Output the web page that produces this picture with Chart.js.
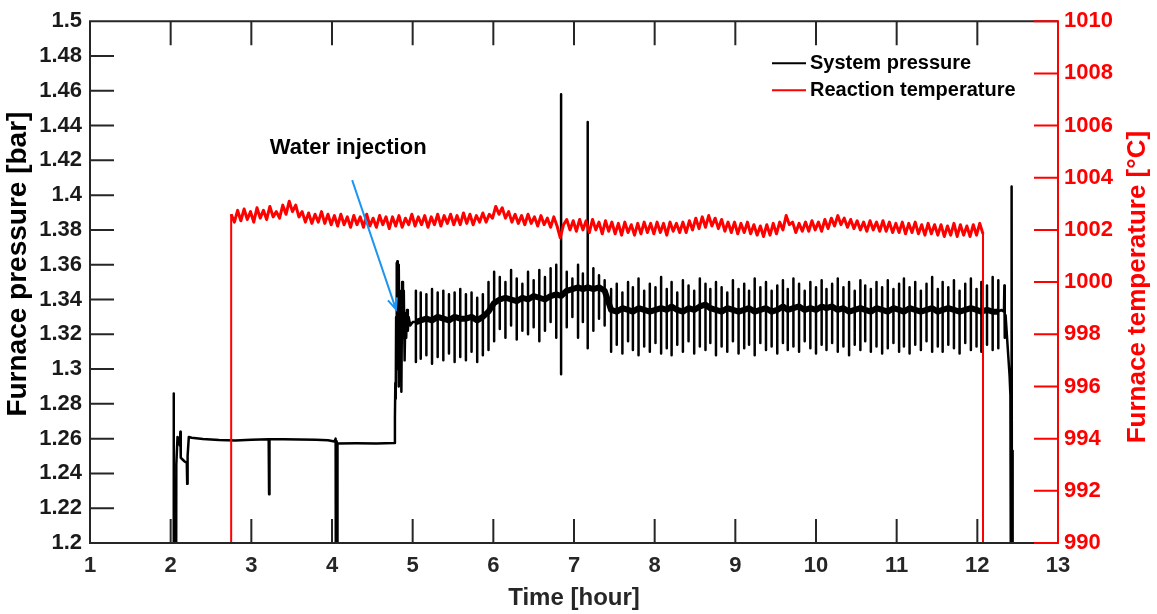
<!DOCTYPE html>
<html>
<head>
<meta charset="utf-8">
<script src="https://cdn.jsdelivr.net/npm/chart.js@4.4.1/dist/chart.umd.min.js"></script>
<style>
  html, body { margin: 0; padding: 0; background: #fff; }
  #wrap { width: 1157px; height: 614px; }
</style>
</head>
<body>
<div id="wrap"><canvas id="furnaceChart" width="1157" height="614"></canvas></div>
<script>
// ---- values ----
const timeTicks = [1, 2, 3, 4, 5, 6, 7, 8, 9, 10, 11, 12, 13];

// start-up part of the pressure trace (hour, bar)
const startTime = [
  2.000, 2.035, 2.037, 2.040, 2.065, 2.070, 2.085, 2.100, 2.115, 2.120,
  2.125, 2.170, 2.200, 2.205, 2.210, 2.225, 2.260, 2.400, 2.600, 2.800,
  3.000, 3.215, 3.220, 3.225, 3.400, 3.600, 3.800, 3.950, 4.030, 4.045,
  4.050, 4.058, 4.062, 4.068, 4.300, 4.550, 4.770, 4.780, 4.785, 4.790,
  4.795, 4.800, 4.805, 4.810, 4.815, 4.820, 4.825, 4.830, 4.835, 4.840,
  4.845, 4.850, 4.860, 4.870, 4.880, 4.890, 4.900, 4.910, 4.920, 4.930,
  4.940, 4.950, 4.970, 5.000
];
const startPressure = [
  1.100, 1.100, 1.286, 1.100, 1.100, 1.245, 1.261, 1.258, 1.256, 1.264,
  1.249, 1.247, 1.246, 1.234, 1.250, 1.261, 1.2605, 1.2598, 1.2592, 1.2590,
  1.2593, 1.2596, 1.228, 1.2596, 1.2597, 1.2595, 1.2594, 1.2591, 1.2584, 1.2600,
  1.100, 1.2585, 1.100, 1.2572, 1.2573, 1.2572, 1.2575, 1.272, 1.292, 1.283,
  1.330, 1.361, 1.300, 1.362, 1.315, 1.356, 1.290, 1.360, 1.320, 1.345,
  1.300, 1.340, 1.287, 1.350, 1.318, 1.345, 1.305, 1.332, 1.318, 1.334,
  1.322, 1.330, 1.325, 1.327
];

// periodic pressure pulses after water injection: time, baseline, peak, dip
const spikeTime = [
  5.04, 5.10, 5.17, 5.24, 5.31, 5.38, 5.45, 5.52, 5.59, 5.66, 5.73, 5.80, 5.87, 5.94,
  6.01, 6.08, 6.15, 6.22, 6.29, 6.36, 6.43, 6.50, 6.57, 6.64, 6.71, 6.78, 6.84,
  6.91, 6.98, 7.05, 7.11, 7.17, 7.24, 7.31, 7.38,
  7.46, 7.53, 7.60, 7.67, 7.73, 7.80, 7.87, 7.94, 8.01, 8.08,
  8.15, 8.21, 8.28, 8.35, 8.42, 8.49, 8.56, 8.63, 8.69, 8.76,
  8.83, 8.90, 8.97, 9.04, 9.11, 9.17, 9.24, 9.31, 9.38, 9.45,
  9.52, 9.59, 9.65, 9.72, 9.79, 9.86, 9.93, 10.00, 10.07, 10.13,
  10.20, 10.27, 10.34, 10.41, 10.48, 10.55, 10.61, 10.68, 10.75, 10.82,
  10.89, 10.96, 11.03, 11.09, 11.16, 11.23, 11.30, 11.37, 11.44, 11.51,
  11.57, 11.64, 11.71, 11.78, 11.85, 11.92, 11.99, 12.05, 12.12, 12.19,
  12.26
];
const spikeBase = [
  1.327, 1.328, 1.329, 1.328, 1.330, 1.329, 1.328, 1.330, 1.329, 1.329, 1.330, 1.328, 1.330, 1.333,
  1.338, 1.340, 1.341, 1.340, 1.339, 1.341, 1.340, 1.342, 1.341, 1.340, 1.342, 1.343, 1.342,
  1.345, 1.346, 1.347, 1.346, 1.347, 1.346, 1.347, 1.345,
  1.334, 1.333, 1.335, 1.334, 1.333, 1.335, 1.334, 1.333, 1.334, 1.335,
  1.334, 1.336, 1.334, 1.333, 1.335, 1.334, 1.336, 1.337, 1.335, 1.334,
  1.333, 1.335, 1.334, 1.333, 1.334, 1.335, 1.333, 1.334, 1.335, 1.333,
  1.334, 1.336, 1.334, 1.335, 1.336, 1.334, 1.335, 1.334, 1.336, 1.335,
  1.336, 1.334, 1.335, 1.333, 1.334, 1.335, 1.334, 1.333, 1.335, 1.334,
  1.333, 1.335, 1.334, 1.333, 1.335, 1.334, 1.333, 1.334, 1.335, 1.333,
  1.334, 1.335, 1.334, 1.333, 1.334, 1.335, 1.334, 1.333, 1.334, 1.333,
  1.333
];
const spikeHigh = [
  1.345, 1.344, 1.343, 1.346, 1.344, 1.345, 1.343, 1.344, 1.346, 1.343, 1.344, 1.341, 1.343, 1.350,
  1.356, 1.353, 1.350, 1.357, 1.352, 1.349, 1.356, 1.351, 1.357, 1.353, 1.358, 1.360, 1.458,
  1.356, 1.352, 1.360, 1.355, 1.442, 1.358, 1.354, 1.351,
  1.346, 1.349, 1.344, 1.350, 1.347, 1.352, 1.345, 1.349, 1.347, 1.353,
  1.346, 1.350, 1.344, 1.351, 1.348, 1.345, 1.352, 1.349, 1.346, 1.350,
  1.347, 1.344, 1.351, 1.346, 1.349, 1.345, 1.352, 1.347, 1.350, 1.345,
  1.348, 1.351, 1.346, 1.352, 1.349, 1.345, 1.350, 1.347, 1.351, 1.346,
  1.349, 1.352, 1.347, 1.350, 1.345, 1.351, 1.348, 1.346, 1.350, 1.347,
  1.351, 1.346, 1.349, 1.352, 1.347, 1.350, 1.345, 1.349, 1.353, 1.346,
  1.350, 1.347, 1.351, 1.345, 1.349, 1.352, 1.346, 1.350, 1.348, 1.353,
  1.351
];
const spikeLow = [
  1.304, 1.306, 1.308, 1.303, 1.307, 1.305, 1.309, 1.304, 1.307, 1.305, 1.310, 1.304, 1.308, 1.311,
  1.316, 1.323, 1.318, 1.325, 1.317, 1.322, 1.320, 1.324, 1.316, 1.322, 1.327, 1.318, 1.297,
  1.324, 1.330, 1.318, 1.327, 1.312, 1.322, 1.329, 1.325,
  1.310, 1.314, 1.309, 1.316, 1.311, 1.308, 1.313, 1.310, 1.315, 1.309,
  1.312, 1.308, 1.314, 1.310, 1.316, 1.309, 1.313, 1.311, 1.315, 1.308,
  1.313, 1.310, 1.316, 1.309, 1.312, 1.314, 1.308, 1.315, 1.311, 1.313,
  1.309, 1.315, 1.311, 1.313, 1.310, 1.316, 1.312, 1.309, 1.314, 1.311,
  1.315, 1.310, 1.313, 1.308, 1.314, 1.311, 1.316, 1.310, 1.313, 1.309,
  1.312, 1.315, 1.310, 1.313, 1.309, 1.314, 1.311, 1.316, 1.310, 1.313,
  1.310, 1.314, 1.312, 1.309, 1.315, 1.311, 1.313, 1.310, 1.314, 1.311,
  1.312
];

// shut-down part of the pressure trace
const endTime = [12.30, 12.33, 12.335, 12.34, 12.35, 12.40, 12.41, 12.42, 12.425, 12.43, 12.435, 12.44];
const endPressure = [1.334, 1.333, 1.348, 1.318, 1.331, 1.296, 1.285, 1.100, 1.405, 1.100, 1.253, 1.100];

// reaction temperature, logged every 0.04 h from 2.75 h
const tempStart = 2.75;
const tempStep = 0.04;
const tempOff = 985; // heater reading before / after the run (below the axis)
const tempValues = [
  1002.6, 1002.3, 1002.75, 1002.35, 1002.8, 1002.4, 1002.7, 1002.3, 1002.85, 1002.45,
  1002.75, 1002.4, 1002.9, 1002.5, 1002.7, 1002.45, 1002.95, 1002.6, 1003.1, 1002.7,
  1002.95, 1002.5, 1002.7, 1002.3, 1002.65, 1002.25, 1002.6, 1002.3, 1002.7, 1002.25,
  1002.6, 1002.2, 1002.55, 1002.15, 1002.6, 1002.2, 1002.5, 1002.1, 1002.55, 1002.2,
  1002.5, 1002.1, 1002.6, 1002.15, 1002.45, 1002.1, 1002.55, 1002.2, 1002.5, 1002.05,
  1002.5, 1002.15, 1002.55, 1002.1, 1002.45, 1002.2, 1002.6, 1002.15, 1002.5, 1002.2,
  1002.55, 1002.1, 1002.5, 1002.2, 1002.6, 1002.15, 1002.55, 1002.25, 1002.6, 1002.2,
  1002.55, 1002.2, 1002.65, 1002.25, 1002.6, 1002.2, 1002.55, 1002.3, 1002.65, 1002.3,
  1002.6, 1002.45, 1002.9, 1002.6, 1002.85, 1002.45, 1002.7, 1002.3, 1002.6, 1002.25,
  1002.55, 1002.2, 1002.6, 1002.25, 1002.5, 1002.15, 1002.55, 1002.2, 1002.45, 1002.1,
  1002.5, 1002.15, 1001.7, 1002.2, 1002.4, 1002.0, 1002.35, 1001.95, 1002.4, 1002.0,
  1002.35, 1001.9, 1002.4, 1002.0, 1002.3, 1001.85, 1002.35, 1001.95, 1002.3, 1001.85,
  1002.25, 1001.8, 1002.3, 1001.9, 1002.2, 1001.8, 1002.25, 1001.85, 1002.3, 1001.9,
  1002.25, 1001.85, 1002.3, 1001.9, 1002.25, 1001.8, 1002.3, 1001.95, 1002.25, 1001.9,
  1002.3, 1001.9, 1002.35, 1002.0, 1002.45, 1002.05, 1002.5, 1002.1, 1002.55, 1002.15,
  1002.45, 1002.05, 1002.4, 1001.95, 1002.3, 1001.9, 1002.3, 1001.85, 1002.25, 1001.9,
  1002.3, 1001.85, 1002.2, 1001.8, 1002.15, 1001.75, 1002.2, 1001.8, 1002.25, 1001.85,
  1002.3, 1002.0, 1002.55, 1002.2, 1002.3, 1001.9, 1002.25, 1001.95, 1002.3, 1001.95,
  1002.35, 1002.0, 1002.3, 1001.95, 1002.4, 1002.05, 1002.45, 1002.15, 1002.55, 1002.2,
  1002.45, 1002.1, 1002.4, 1002.05, 1002.35, 1002.0, 1002.3, 1001.95, 1002.35, 1002.0,
  1002.3, 1001.95, 1002.35, 1001.95, 1002.3, 1001.9, 1002.25, 1001.9, 1002.3, 1001.85,
  1002.25, 1001.9, 1002.3, 1001.85, 1002.2, 1001.8, 1002.25, 1001.85, 1002.2, 1001.8,
  1002.2, 1001.75, 1002.15, 1001.8, 1002.25, 1001.75, 1002.2, 1001.8, 1002.15, 1001.75,
  1002.2, 1001.8, 1002.25, 1001.85
];

// ---- build the point lists ----
const pressurePoints = [];
startTime.forEach((t, i) => pressurePoints.push({x: t, y: startPressure[i]}));
spikeTime.forEach((t, i) => {
  pressurePoints.push(
    {x: t, y: spikeBase[i]}, {x: t, y: spikeHigh[i]},
    {x: t, y: spikeLow[i]}, {x: t, y: spikeBase[i]});
});
endTime.forEach((t, i) => pressurePoints.push({x: t, y: endPressure[i]}));

// the noisy baseline band between pulses
const bandPoints = spikeTime.map((t, i) => ({x: t, y: spikeBase[i]}));

const tempTimes = tempValues.map((v, i) => tempStart + i * tempStep);
const tempPoints = [{x: tempStart, y: tempOff}];
tempValues.forEach((v, i) => tempPoints.push({x: tempTimes[i], y: v}));
tempPoints.push({x: tempTimes[tempTimes.length - 1], y: tempOff});

const FONT = '"Liberation Sans", Arial, Helvetica, sans-serif';
const INK = '#262626';

const waterNote = {text: 'Water injection', textAt: [4.2, 1.4274], from: [4.25, 1.4086], to: [4.793, 1.3343]};

function drawSideTitle(ctx, text, x, y, color, size) {
  ctx.save();
  ctx.fillStyle = color;
  ctx.font = 'bold ' + size + 'px ' + FONT;
  ctx.textAlign = 'center';
  ctx.textBaseline = 'middle';
  ctx.translate(x, y);
  ctx.rotate(-Math.PI / 2);
  ctx.fillText(text, 0, 0);
  ctx.restore();
}

// frame and inward ticks, like the original plot
const axisFrame = {
  id: 'axisFrame',
  afterDraw(chart) {
    const {ctx, chartArea: a, scales} = chart;
    const len = 24;
    ctx.save();
    ctx.lineWidth = 2;
    ctx.strokeStyle = INK;
    ctx.beginPath();
    ctx.moveTo(a.right, a.top);
    ctx.lineTo(a.left, a.top);
    ctx.lineTo(a.left, a.bottom);
    ctx.lineTo(a.right, a.bottom);
    scales.x.ticks.forEach((t, i, arr) => {
      if (i === 0 || i === arr.length - 1) return;
      const px = scales.x.getPixelForValue(t.value);
      ctx.moveTo(px, a.bottom); ctx.lineTo(px, a.bottom - len);
      ctx.moveTo(px, a.top); ctx.lineTo(px, a.top + len);
    });
    scales.y.ticks.forEach(t => {
      const py = scales.y.getPixelForValue(t.value);
      ctx.moveTo(a.left, py); ctx.lineTo(a.left + len, py);
    });
    ctx.stroke();

    ctx.strokeStyle = '#ff0000';
    ctx.beginPath();
    ctx.moveTo(a.right, a.top - 1);
    ctx.lineTo(a.right, a.bottom + 1);
    scales.y1.ticks.forEach(t => {
      const py = scales.y1.getPixelForValue(t.value);
      ctx.moveTo(a.right - len, py); ctx.lineTo(a.right, py);
    });
    ctx.stroke();
    ctx.restore();

    // both side titles read bottom-to-top
    const mid = (a.top + a.bottom) / 2;
    drawSideTitle(ctx, 'Furnace pressure [bar]', a.left - 72, mid - 18, '#000', 28);
    drawSideTitle(ctx, 'Furnace temperature [°C]', a.right + 80, mid + 5, '#ff0000', 26);

    // legend in the top right corner
    ctx.save();
    ctx.font = 'bold 20px ' + FONT;
    ctx.textBaseline = 'middle';
    ctx.textAlign = 'left';
    chart.data.datasets.filter(d => d.inLegend).forEach((d, i) => {
      const y = a.top + 42 + i * 27;
      const x0 = a.right - 286;
      ctx.strokeStyle = d.borderColor;
      ctx.lineWidth = 2;
      ctx.beginPath(); ctx.moveTo(x0, y); ctx.lineTo(x0 + 34, y); ctx.stroke();
      ctx.fillStyle = '#000';
      ctx.fillText(d.label, x0 + 38, y);
    });
    ctx.restore();
  }
};

const injectionNote = {
  id: 'injectionNote',
  afterDatasetsDraw(chart) {
    const {ctx, scales: {x, y}} = chart;
    const tx = x.getPixelForValue(waterNote.textAt[0]), ty = y.getPixelForValue(waterNote.textAt[1]);
    const x1 = x.getPixelForValue(waterNote.from[0]), y1 = y.getPixelForValue(waterNote.from[1]);
    const x2 = x.getPixelForValue(waterNote.to[0]), y2 = y.getPixelForValue(waterNote.to[1]);
    ctx.save();
    ctx.font = 'bold 22px ' + FONT;
    ctx.fillStyle = '#000';
    ctx.textAlign = 'center';
    ctx.textBaseline = 'middle';
    ctx.fillText(waterNote.text, tx, ty);
    const ang = Math.atan2(y2 - y1, x2 - x1);
    ctx.strokeStyle = '#1e96f0';
    ctx.lineWidth = 2;
    ctx.beginPath();
    ctx.moveTo(x1, y1); ctx.lineTo(x2, y2);
    ctx.moveTo(x2 - 12 * Math.cos(ang - 0.4), y2 - 12 * Math.sin(ang - 0.4));
    ctx.lineTo(x2, y2);
    ctx.lineTo(x2 - 12 * Math.cos(ang + 0.4), y2 - 12 * Math.sin(ang + 0.4));
    ctx.stroke();
    ctx.restore();
  }
};

const ctx = document.getElementById('furnaceChart').getContext('2d');
const furnaceChart = new Chart(ctx, {
  type: 'line',
  data: {
    datasets: [{
      label: 'System pressure',
      inLegend: true,
      data: pressurePoints,
      yAxisID: 'y',
      borderColor: '#000000',
      borderWidth: 2.5,
      borderJoinStyle: 'round',
      pointRadius: 0,
      order: 1,
    }, {
      label: 'Reaction temperature',
      inLegend: true,
      data: tempPoints,
      yAxisID: 'y1',
      borderColor: '#ff0000',
      borderWidth: 3,
      borderJoinStyle: 'round',
      pointRadius: 0,
      order: 0,
      // the heater switch-on / switch-off edges are thinner than the noisy trace
      segment: {
        borderWidth: c => (c.p0.parsed.y < 990 || c.p1.parsed.y < 990) ? 2 : undefined,
      },
    }, {
      label: 'pressure band',
      data: bandPoints,
      yAxisID: 'y',
      borderColor: '#000000',
      borderWidth: 6,
      borderJoinStyle: 'round',
      pointRadius: 0,
      order: 2,
    }],
  },
  options: {
    responsive: false,
    animation: false,
    events: [],
    layout: {padding: {top: 18, left: 0, right: 0, bottom: 0}},
    plugins: {
      legend: {display: false},
      tooltip: {enabled: false},
    },
    scales: {
      x: {
        type: 'linear',
        min: timeTicks[0],
        max: timeTicks[timeTicks.length - 1],
        afterFit: s => { s.height = 71; },
        grid: {display: false, drawTicks: false},
        border: {display: false},
        ticks: {
          stepSize: 1, autoSkip: false, maxRotation: 0, padding: 10,
          color: INK, font: {family: FONT, size: 22, weight: 'bold'},
        },
        title: {
          display: true, text: 'Time [hour]', color: INK,
          font: {family: FONT, size: 24, weight: 'bold'},
          padding: {top: 0, bottom: 1},
        },
      },
      y: {
        position: 'left',
        min: 1.2,
        max: 1.5,
        afterFit: s => { s.width = 90; },
        grid: {display: false, drawTicks: false},
        border: {display: false},
        ticks: {
          stepSize: 0.02, autoSkip: false, padding: 8,
          color: '#1a1a1a', font: {family: FONT, size: 22, weight: 'bold'},
          callback: v => String(parseFloat(v.toFixed(2))),
        },
        title: {display: false},
      },
      y1: {
        position: 'right',
        min: 990,
        max: 1010,
        afterFit: s => { s.width = 99; },
        grid: {display: false, drawTicks: false},
        border: {display: false},
        ticks: {
          stepSize: 2, autoSkip: false, padding: 6,
          color: '#ff0000', font: {family: FONT, size: 22, weight: 'bold'},
          callback: v => String(Math.round(v)),
        },
        title: {display: false},
      },
    },
  },
  plugins: [injectionNote, axisFrame],
});
</script>
</body>
</html>
